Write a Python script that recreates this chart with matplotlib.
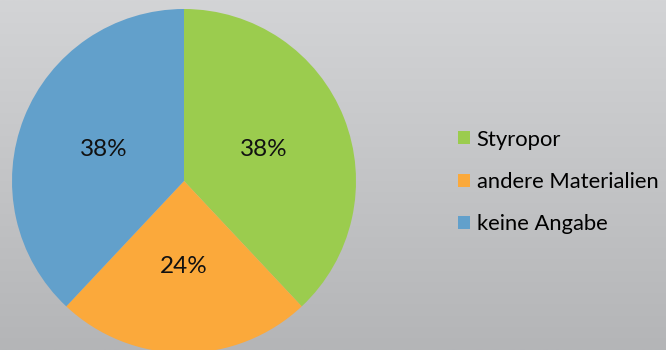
import numpy as np
import matplotlib.pyplot as plt
from matplotlib.colors import LinearSegmentedColormap

# Anteile je Kategorie
labels = ['Styropor', 'andere Materialien', 'keine Angabe']
shares = [38, 24, 38]
colors = ['#9bcc4e', '#fba93b', '#62a0cb']

plt.rcParams['font.family'] = ['Lato', 'DejaVu Sans']

fig = plt.figure(figsize=(6.66, 3.5), dpi=100)

# grauer Verlaufshintergrund
bg = fig.add_axes([0, 0, 1, 1])
grad = np.linspace(0, 1, 256).reshape(-1, 1)
cmap = LinearSegmentedColormap.from_list('bg', ['#d3d4d6', '#b4b5b7'])
bg.imshow(grad, aspect='auto', cmap=cmap, extent=[0, 1, 0, 1], origin='upper')
bg.axis('off')

ax = fig.add_axes([12 / 666, -3 / 350, 344 / 666, 344 / 350])
wedges, texts, autotexts = ax.pie(
    shares, colors=colors, startangle=90, counterclock=False,
    autopct=lambda p: f'{p:.0f}%', pctdistance=0.5,
    textprops={'fontsize': 17.5, 'color': '#111111'})
ax.set_xlim(-1, 1)
ax.set_ylim(-1, 1)
ax.set_aspect('equal')

fig.legend(wedges, labels, loc='center left', bbox_to_anchor=(458 / 666, 168 / 350),
           frameon=False, fontsize=15.8, handlelength=0.55, handleheight=0.55,
           handletextpad=0.3, labelspacing=1.02, borderaxespad=0, borderpad=0)

fig.savefig('out.png', dpi=100)
